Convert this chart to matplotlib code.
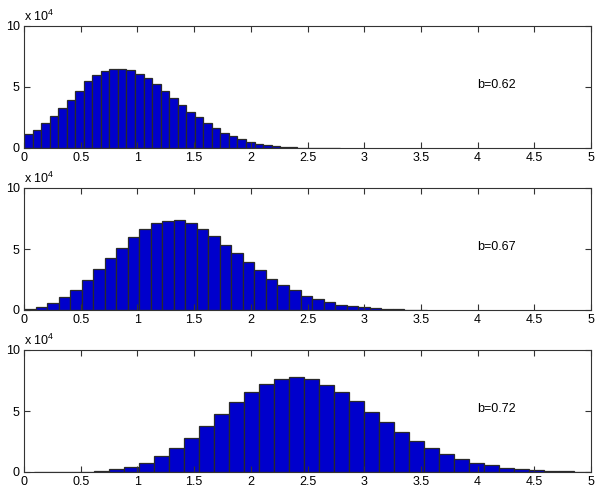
import numpy as np
import matplotlib
matplotlib.use("Agg")
import matplotlib.pyplot as plt

plt.rcParams['font.family'] = ['Liberation Sans', 'DejaVu Sans']
plt.rcParams['mathtext.default'] = 'regular'

# bar heights in units of 1e4
# panel 1: bins start at 0, width ~0.0753
start1, width1 = 0.0, 0.0753
counts1 = [1.17, 1.45, 2.02, 2.65, 3.25, 3.96, 4.67, 5.49, 6.01, 6.28,
           6.45, 6.45, 6.37, 6.09, 5.74, 5.25, 4.70, 4.10, 3.55, 2.98,
           2.54, 2.05, 1.61, 1.26, 0.96, 0.71, 0.52, 0.36, 0.25, 0.16,
           0.11, 0.05, 0.03, 0.02, 0.01, 0.01, 0.005]

# panel 2: bins start at 0, width ~0.1016
start2, width2 = 0.0, 0.1016
counts2 = [0.05, 0.25, 0.58, 1.07, 1.67, 2.44, 3.32, 4.25, 5.12, 5.97,
           6.63, 7.10, 7.29, 7.34, 7.12, 6.66, 6.05, 5.34, 4.68, 3.95,
           3.26, 2.58, 2.05, 1.62, 1.18, 0.90, 0.63, 0.44, 0.30, 0.22,
           0.14, 0.08, 0.05, 0.03, 0.01]

# panel 3: bins start at ~0.088, width ~0.1324
start3, width3 = 0.088, 0.1324
counts3 = [0.0, 0.0, 0.0, 0.02, 0.05, 0.22, 0.41, 0.77, 1.28, 1.97,
           2.81, 3.74, 4.78, 5.71, 6.58, 7.19, 7.60, 7.76, 7.60, 7.10,
           6.56, 5.79, 4.89, 4.10, 3.31, 2.57, 1.97, 1.50, 1.08, 0.77,
           0.57, 0.36, 0.25, 0.16, 0.11, 0.05, 0.03]

labels = ["b=0.62", "b=0.67", "b=0.72"]
panels = [(start1, width1, counts1), (start2, width2, counts2), (start3, width3, counts3)]

xticks = np.arange(0, 5.01, 0.5)
xticklabels = ["0", "0.5", "1", "1.5", "2", "2.5", "3", "3.5", "4", "4.5", "5"]
yticks = [0, 5, 10]

W, H = 599, 495
fig = plt.figure(figsize=(W / 100, H / 100), dpi=100)

# axes boxes in pixels: left, top, right, bottom
boxes = [(24, 26, 591, 148), (24, 188, 591, 310), (24, 350, 591, 472)]

for (x0, y0, x1, y1), (start, width, counts), lab in zip(boxes, panels, labels):
    ax = fig.add_axes([x0 / W, 1 - y1 / H, (x1 - x0) / W, (y1 - y0) / H])
    counts = np.array(counts)
    edges = start + width * np.arange(len(counts))
    ax.bar(edges, counts, width=width, align='edge', color='#0000cc',
           edgecolor='#2a2a2a', linewidth=0.9)
    ax.set_xlim(0, 5)
    ax.set_ylim(0, 10)
    ax.set_xticks(xticks)
    ax.set_xticklabels(xticklabels)
    ax.set_yticks(yticks)
    ax.tick_params(direction='in', top=True, right=True, length=4,
                   width=0.8, labelsize=9, pad=3, color='#333333')
    for sp in ax.spines.values():
        sp.set_linewidth(0.8)
        sp.set_color('#333333')
    ax.text(0.0, 1.015, r'x 10$^{4}$', transform=ax.transAxes,
            fontsize=9, ha='left', va='bottom')
    ax.text(4.0, 5.2, lab, fontsize=9, ha='left', va='center')

fig.savefig("out.png", dpi=100)
